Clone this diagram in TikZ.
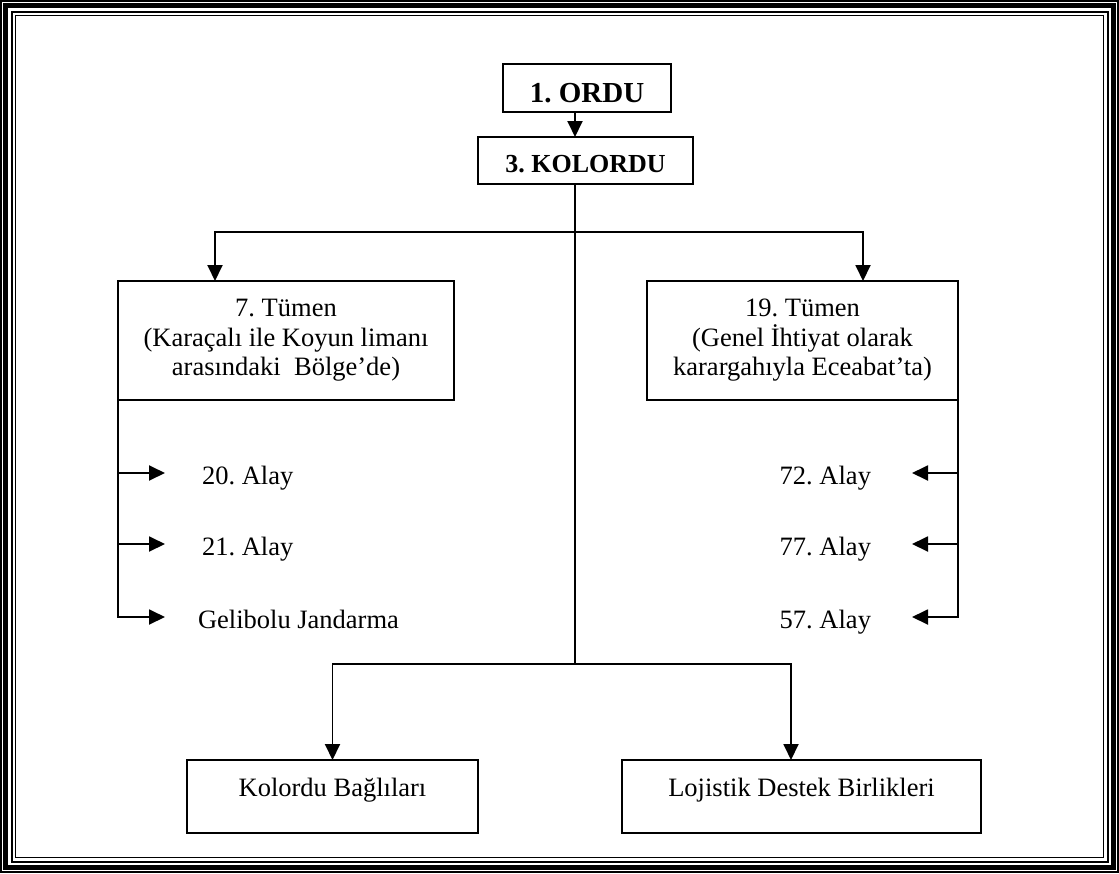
\documentclass[tikz,border=0pt]{standalone}
\usepackage{fontspec}
\setmainfont{Liberation Serif}
\usetikzlibrary{arrows.meta,positioning}
\frenchspacing

\begin{document}
\begin{tikzpicture}[x=1pt, y=-1pt,
    kutu/.style={draw, line width=1.9pt, inner sep=0pt, outer sep=0pt, align=center,
        font=\fontsize{26.5}{29.5}\selectfont},
    ok/.style={-{Triangle[length=16pt,width=15pt]}, line width=1.9pt},
    cizgi/.style={line width=1.9pt},
    alay/.style={inner ysep=0pt, outer sep=0pt, text height=22pt, text depth=0pt,
        font=\fontsize{26.5}{29.5}\selectfont}]

    % Рамка
    \useasboundingbox (0,0) rectangle (1119,873);
    \draw[line width=1.5pt] (0.8,0.8) rectangle (1118.2,872.2);
    \draw[line width=4.5pt] (5.5,5.5) rectangle (1113.5,867.5);
    \draw[line width=2pt] (11.5,11.5) rectangle (1107.5,861.5);
    \draw[line width=1.5pt] (15.5,15.5) rectangle (1103.5,857.5);

    % Ордu и корпус
    \node[kutu, minimum width=168pt, minimum height=48pt, text height=28pt, text depth=0pt,
        font=\bfseries\fontsize{29}{32}\selectfont] (ordu) at (587,88) {1. ORDU};
    \node[kutu, minimum width=215pt, minimum height=47pt, text height=23pt, text depth=0pt,
        font=\bfseries\fontsize{26}{29}\selectfont] (kolordu) at (585.5,160.5) {3. KOLORDU};

    % Дивизии
    \node[kutu, minimum width=336pt, minimum height=119pt] (t7) at (286,340.5)
        {7. Tümen\\(Karaçalı ile Koyun limanı\\arasındaki\ \ Bölge’de)};
    \node[kutu, minimum width=311pt, minimum height=119pt] (t19) at (802.5,340.5)
        {19. Tümen\\(Genel İhtiyat olarak\\karargahıyla Eceabat’ta)};

    % Нижние блоки
    \node[kutu, minimum width=291pt, minimum height=73pt, text height=18pt, text depth=18pt]
        (kb) at (332.5,796.5) {Kolordu Bağlıları};
    \node[kutu, minimum width=359pt, minimum height=73pt, text height=18pt, text depth=18pt]
        (lds) at (801.5,796.5) {Lojistik Destek Birlikleri};

    % Полки
    \node[alay, anchor=west, inner xsep=37pt] (a20) at (165,473) {20. Alay};
    \node[alay, anchor=west, inner xsep=37pt] (a21) at (165,544) {21. Alay};
    \node[alay, anchor=west, inner xsep=33pt] (gj) at (165,617) {Gelibolu Jandarma};
    \node[alay, anchor=east, inner xsep=41pt] (a72) at (912,473) {72. Alay};
    \node[alay, anchor=east, inner xsep=41pt] (a77) at (912,544) {77. Alay};
    \node[alay, anchor=east, inner xsep=41pt] (a57) at (912,617) {57. Alay};

    % Точки ветвления
    \coordinate (ust) at (575,232);
    \coordinate (alt) at (575,664);
    \coordinate (sol) at (215,232);
    \coordinate (sag) at (863,232);
    \coordinate (ldsok) at (791,664);

    % Связи
    \draw[ok] (ordu.south -| ust) -- (kolordu.north -| ust);
    \draw[cizgi] (kolordu.south -| ust) -- (alt);
    \draw[ok] (ust) -| (t7.north -| sol);
    \draw[ok] (ust) -| (t19.north -| sag);
    \draw[ok] (alt) -| (kb.north);
    \draw[ok] (alt) -| (lds.north -| ldsok);

    % Полки дивизий
    \draw[ok] (t7.south west) |- (gj.west);
    \foreach \n in {a20,a21}
        \draw[ok] (t7.south west |- \n.west) -- (\n.west);
    \draw[ok] (t19.south east) |- (a57.east);
    \foreach \n in {a72,a77}
        \draw[ok] (t19.south east |- \n.east) -- (\n.east);

\end{tikzpicture}
\end{document}
